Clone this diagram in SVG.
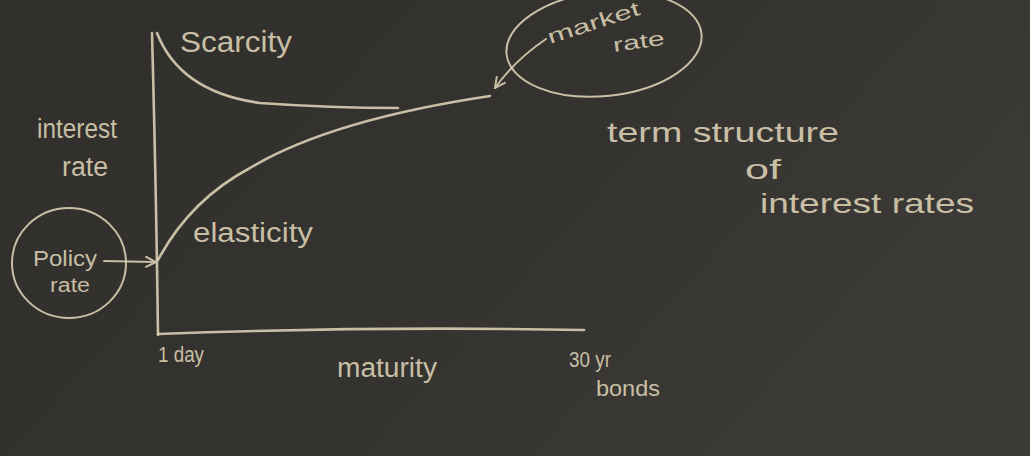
<svg xmlns="http://www.w3.org/2000/svg" width="1030" height="456" viewBox="0 0 1030 456">
<style>
.chalk{fill:none;stroke:#d9ceb2;stroke-width:2.6;stroke-linecap:round;stroke-linejoin:round;opacity:0.9}
.thin{stroke-width:2}
.t{font-family:"Liberation Sans","DejaVu Sans",sans-serif;fill:#d9ceb2;opacity:0.9}
</style>
<defs>
<linearGradient id="bg" x1="0" y1="0" x2="1" y2="0.4">
<stop offset="0" stop-color="#312f2c"/>
<stop offset="0.6" stop-color="#35332f"/>
<stop offset="1" stop-color="#3c3a36"/>
</linearGradient>
<marker id="ah" viewBox="0 0 12 12" refX="11" refY="6" markerWidth="12" markerHeight="12" markerUnits="userSpaceOnUse" orient="auto">
<path d="M1,1 L11,6 L1,11" fill="none" stroke="#d9ceb2" stroke-width="2" stroke-linecap="round"/>
</marker>
</defs>
<rect width="1030" height="456" fill="url(#bg)"/>

<g id="axes">
<path class="chalk" d="M152,33 Q156,180 158,335"/>
<path class="chalk" d="M158,334 Q370,326 584,330"/>
</g>

<g id="scarcity-curve">
<path class="chalk" d="M157,33 Q180,92 260,103 Q330,108 398,108"/>
<text class="t" x="180" y="52" font-size="30" textLength="112" lengthAdjust="spacingAndGlyphs">Scarcity</text>
</g>

<g id="elasticity-curve">
<path class="chalk" d="M158,260 Q190,200 250,168 Q330,120 490,96"/>
<text class="t" x="193" y="242" font-size="27" textLength="120" lengthAdjust="spacingAndGlyphs">elasticity</text>
</g>

<g id="y-label">
<text class="t" x="37" y="138" font-size="27" textLength="80" lengthAdjust="spacingAndGlyphs">interest</text>
<text class="t" x="62" y="176" font-size="27" textLength="46" lengthAdjust="spacingAndGlyphs">rate</text>
</g>

<g id="policy-rate">
<ellipse class="chalk thin" cx="69" cy="263" rx="57" ry="55"/>
<text class="t" x="33" y="266" font-size="22" textLength="64" lengthAdjust="spacingAndGlyphs">Policy</text>
<text class="t" x="50" y="292" font-size="20" textLength="40" lengthAdjust="spacingAndGlyphs">rate</text>
</g>

<g id="market-rate">
<ellipse class="chalk thin" cx="604" cy="44" rx="98" ry="52" transform="rotate(-6 604 44)"/>
<text class="t" x="550" y="44" font-size="20" textLength="96" lengthAdjust="spacingAndGlyphs" transform="rotate(-18 550 44)">market</text>
<text class="t" x="614" y="52" font-size="20" textLength="52" lengthAdjust="spacingAndGlyphs" transform="rotate(-8 614 52)">rate</text>
</g>

<g id="x-labels">
<text class="t" x="158" y="362" font-size="22" textLength="46" lengthAdjust="spacingAndGlyphs">1 day</text>
<text class="t" x="337" y="377" font-size="27" textLength="100" lengthAdjust="spacingAndGlyphs">maturity</text>
<text class="t" x="569" y="367" font-size="22" textLength="42" lengthAdjust="spacingAndGlyphs">30 yr</text>
<text class="t" x="596" y="396" font-size="22" textLength="64" lengthAdjust="spacingAndGlyphs">bonds</text>
</g>

<g id="title">
<text class="t" x="607" y="142" font-size="28" textLength="232" lengthAdjust="spacingAndGlyphs">term structure</text>
<text class="t" x="745" y="179" font-size="28" textLength="36" lengthAdjust="spacingAndGlyphs">of</text>
<text class="t" x="760" y="213" font-size="28" textLength="214" lengthAdjust="spacingAndGlyphs">interest rates</text>
</g>

<g id="connectors">
<path class="chalk thin" d="M104,261 L156,262" marker-end="url(#ah)"/>
<path class="chalk thin" d="M546,39 Q515,60 495,88" marker-end="url(#ah)"/>
</g>
</svg>
